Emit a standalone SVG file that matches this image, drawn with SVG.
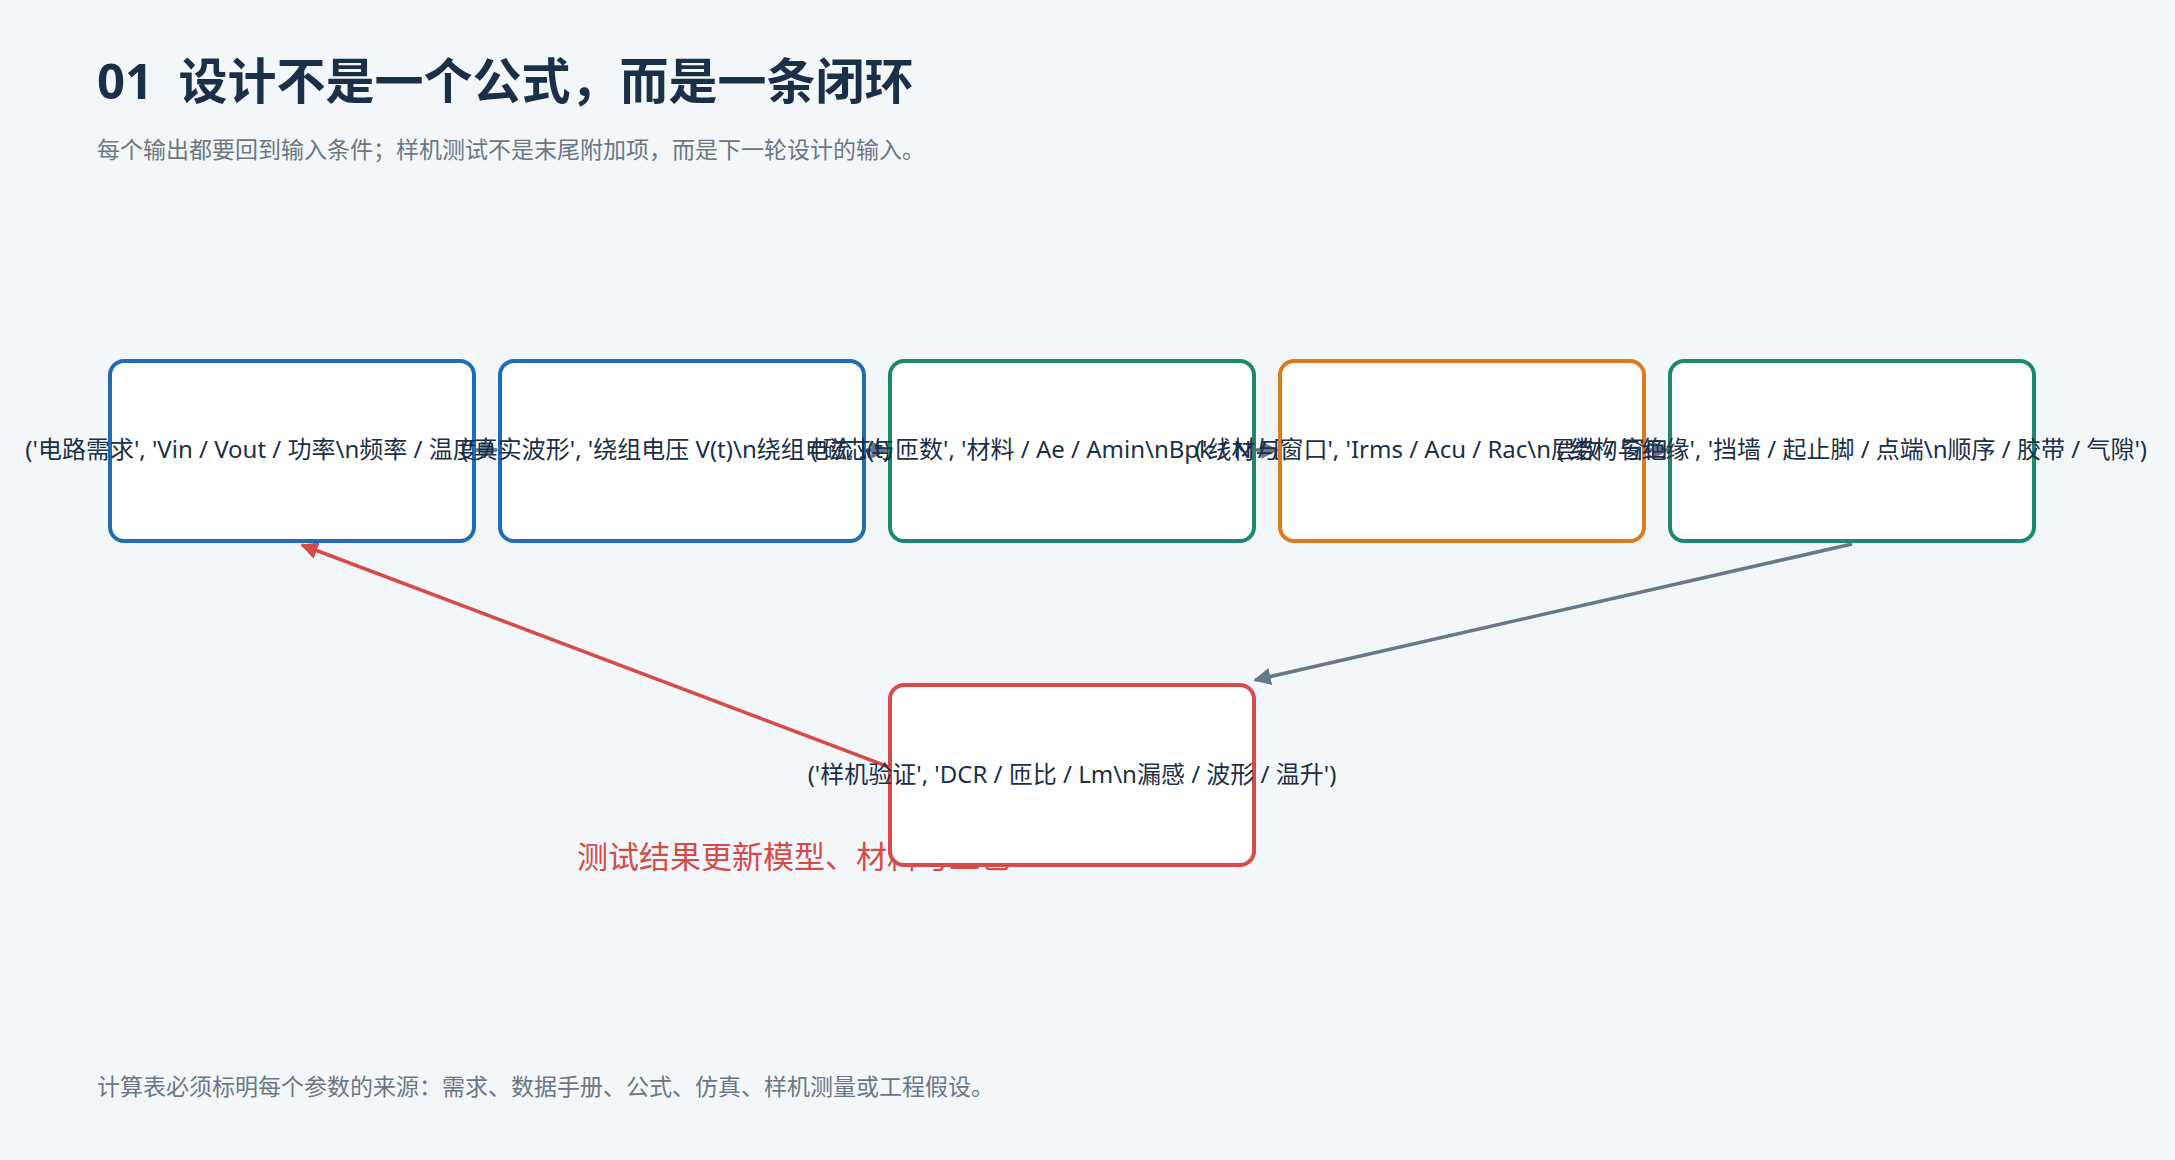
<svg xmlns="http://www.w3.org/2000/svg" width="2175" height="1160" viewBox="0 0 2175 1160">
<style>
.n{fill:#fff;stroke-width:4}
.t{font-family:"Noto Sans","Noto Sans CJK SC",sans-serif;font-size:24px;fill:#1b3048;text-anchor:middle}
.c{fill:none;stroke-width:3.5}
</style>
<defs>
<marker id="ag" viewBox="0 0 10 10" refX="9" refY="5" markerWidth="5" markerHeight="5" orient="auto"><path d="M0,0L10,5L0,10z" fill="#687789"/></marker>
<marker id="ar" viewBox="0 0 10 10" refX="9" refY="5" markerWidth="5" markerHeight="5" orient="auto"><path d="M0,0L10,5L0,10z" fill="#d64a4a"/></marker>
</defs>
<rect width="2175" height="1160" fill="#f3f7fa"/>
<text x="97" y="99" xml:space="preserve" font-family="'Noto Sans','Noto Sans CJK SC',sans-serif" font-size="49" font-weight="bold" fill="#1b3048">01  设计不是一个公式，而是一条闭环</text>
<text x="97" y="158" font-family="'Noto Sans','Noto Sans CJK SC',sans-serif" font-size="23" fill="#6b7785">每个输出都要回到输入条件；样机测试不是末尾附加项，而是下一轮设计的输入。</text>
<g id="connectors">
<line class="c" stroke="#687789" x1="474" y1="450" x2="497" y2="450" marker-end="url(#ag)"/>
<line class="c" stroke="#687789" x1="864" y1="450" x2="887" y2="450" marker-end="url(#ag)"/>
<line class="c" stroke="#687789" x1="1254" y1="450" x2="1277" y2="450" marker-end="url(#ag)"/>
<line class="c" stroke="#687789" x1="1644" y1="450" x2="1668" y2="450" marker-end="url(#ag)"/>
<line class="c" stroke="#687789" x1="1852" y1="544" x2="1255" y2="680" marker-end="url(#ag)"/>
<line class="c" stroke="#d64a4a" x1="889" y1="767" x2="302" y2="545" marker-end="url(#ar)"/>
<text x="577" y="868" font-family="'Noto Sans','Noto Sans CJK SC',sans-serif" font-size="31" fill="#d64a4a">测试结果更新模型、材料与工艺</text>
</g>
<g id="n1"><rect class="n" stroke="#1f6db3" x="110" y="361" width="364" height="180" rx="14"/><text class="t" x="292" y="458">('电路需求', 'Vin / Vout / 功率\n频率 / 温度 / 安规')</text></g>
<g id="n2"><rect class="n" stroke="#1f6db3" x="500" y="361" width="364" height="180" rx="14"/><text class="t" x="682" y="458">('真实波形', '绕组电压 V(t)\n绕组电流 I(t)')</text></g>
<g id="n3"><rect class="n" stroke="#1e8770" x="890" y="361" width="364" height="180" rx="14"/><text class="t" x="1072" y="458">('磁芯与匝数', '材料 / Ae / Amin\nBpk / N / 匝比')</text></g>
<g id="n4"><rect class="n" stroke="#dc7a20" x="1280" y="361" width="364" height="180" rx="14"/><text class="t" x="1462" y="458">('线材与窗口', 'Irms / Acu / Rac\n层数 / 窗口占比')</text></g>
<g id="n5"><rect class="n" stroke="#1e8770" x="1670" y="361" width="364" height="180" rx="14"/><text class="t" x="1852" y="458">('结构与绝缘', '挡墙 / 起止脚 / 点端\n顺序 / 胶带 / 气隙')</text></g>
<g id="n6"><rect class="n" stroke="#d64a4a" x="890" y="685" width="364" height="180" rx="14"/><text class="t" x="1072" y="783">('样机验证', 'DCR / 匝比 / Lm\n漏感 / 波形 / 温升')</text></g>
<text x="97" y="1095" font-family="'Noto Sans','Noto Sans CJK SC',sans-serif" font-size="23" fill="#6b7785">计算表必须标明每个参数的来源：需求、数据手册、公式、仿真、样机测量或工程假设。</text>
</svg>
